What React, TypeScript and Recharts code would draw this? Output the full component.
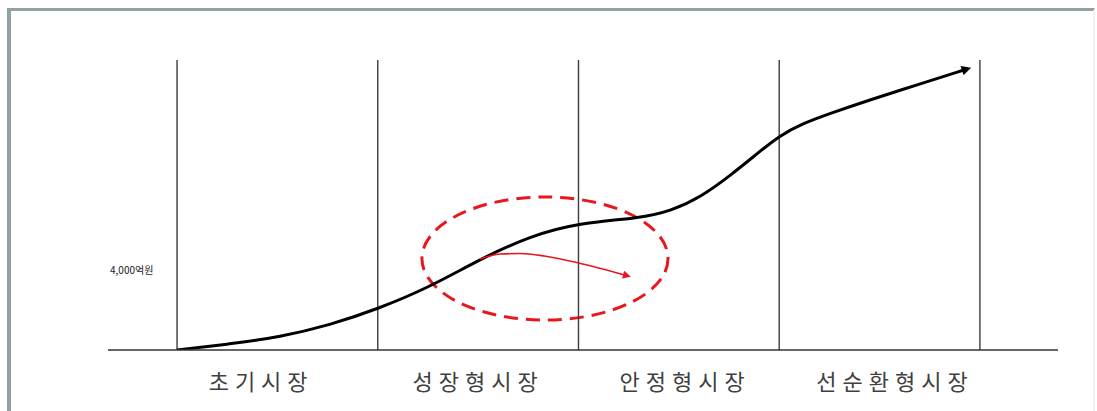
import React from "react";
import {
  ComposedChart,
  Line,
  XAxis,
  YAxis,
  ReferenceLine,
  ReferenceArea,
} from "recharts";

// stage boundaries (x in stage units) and stage labels
const stageBounds = [0, 1, 2, 3, 4];
const stageLabels = ["초기시장", "성장형시장", "안정형시장", "선순환형시장"];
const stageLabelPos = [0.404, 1.485, 2.516, 3.562];

// main market-size curve (억원)
const curveX = [0, 0.264, 0.513, 0.762, 1.0, 1.26, 1.51, 1.76, 2.0, 2.31, 2.46, 2.61, 2.76, 2.9, 3.0, 3.11, 3.26, 3.45, 3.7, 3.92];
const curveY = [0, 300, 650, 1250, 2050, 3150, 4550, 5700, 6350, 6600, 6950, 7650, 8750, 9900, 10700, 11300, 11850, 12500, 13300, 14000];

// red arrow inside the highlighted zone
const stallX = [1.51, 1.61, 1.71, 1.83, 2.0, 2.23];
const stallY = [4550, 4800, 4825, 4700, 4350, 3750];

// highlighted zone (dashed ellipse bounds)
const zoneX = [1.22, 2.446];
const zoneY = [1500, 7650];

const markLevel = 4000;
const markLabel = "4,000억원";

const curveData = curveX.map((x, i) => ({ x, v: curveY[i] }));
const stallData = stallX.map((x, i) => ({ x, v: stallY[i] }));

const KR = '"Noto Sans CJK KR", "Noto Sans", sans-serif';

function StageTick(props: any) {
  const { x, y, payload } = props;
  const idx = stageLabelPos.indexOf(payload.value);
  const label = idx >= 0 ? stageLabels[idx] : "";
  return (
    <text
      x={x}
      y={y + 30}
      dx={3}
      textAnchor="middle"
      dominantBaseline="central"
      fontFamily={KR}
      fontSize={22}
      letterSpacing={6}
      fill="#404040"
    >
      {label}
    </text>
  );
}

function DashedEllipse(props: any) {
  const { x, y, width, height } = props;
  return (
    <ellipse
      cx={x + width / 2}
      cy={y + height / 2}
      rx={width / 2}
      ry={height / 2}
      fill="none"
      stroke="#e8161d"
      strokeWidth={3}
      strokeDasharray="14 8"
    />
  );
}

export default function App() {
  return (
    <div
      style={{
        position: "fixed",
        left: 0,
        top: 0,
        width: 1097,
        height: 411,
        background: "#fff",
        overflow: "hidden",
      }}
    >
      <div
        style={{
          position: "absolute",
          left: 7,
          top: 8,
          width: 1082,
          height: 430,
          borderTop: "3px solid #8fa2a4",
          borderLeft: "4px solid #8fa2a4",
          borderRight: "2px solid #f4f1ee",
        }}
      />
      <div style={{ position: "absolute", left: 0, top: 0 }}>
        <ComposedChart
          width={1097}
          height={411}
          margin={{ top: 60, left: 108, right: 39, bottom: 31 }}
        >
          <defs>
            <marker id="arrowBlack" viewBox="0 0 10 10" refX="2" refY="5" markerWidth="4.5" markerHeight="3.2" orient="auto" markerUnits="strokeWidth">
              <path d="M0,0 L10,5 L0,10 z" fill="#000" />
            </marker>
            <marker id="arrowRed" viewBox="0 0 10 10" refX="2" refY="5" markerWidth="7" markerHeight="5" orient="auto" markerUnits="strokeWidth">
              <path d="M0,0 L10,5 L0,10 z" fill="#e8161d" />
            </marker>
          </defs>
          <XAxis
            dataKey="x"
            type="number"
            domain={[-0.344, 4.389]}
            allowDataOverflow
            ticks={stageLabelPos}
            interval={0}
            tick={<StageTick />}
            tickLine={false}
            tickSize={0}
            tickMargin={0}
            axisLine={{ stroke: "#333", strokeWidth: 1.5 }}
            height={30}
          />
          <YAxis type="number" domain={[0, 14500]} allowDataOverflow hide />
          {stageBounds.map((b) => (
            <ReferenceLine key={b} x={b} stroke="#3c3c3c" strokeWidth={1.4} />
          ))}
          <ReferenceLine
            y={markLevel}
            stroke="none"
            label={{
              value: markLabel,
              position: "insideLeft",
              offset: 2,
              fontSize: 10,
              fontFamily: KR,
              fill: "#222",
            }}
          />
          <ReferenceArea
            x1={zoneX[0]}
            x2={zoneX[1]}
            y1={zoneY[0]}
            y2={zoneY[1]}
            shape={<DashedEllipse />}
          />
          <Line
            data={curveData}
            dataKey="v"
            type="basis"
            stroke="#000"
            strokeWidth={3}
            dot={false}
            activeDot={false}
            markerEnd="url(#arrowBlack)"
            isAnimationActive={false}
          />
          <Line
            data={stallData}
            dataKey="v"
            type="monotone"
            stroke="#e8161d"
            strokeWidth={1.6}
            dot={false}
            activeDot={false}
            markerEnd="url(#arrowRed)"
            isAnimationActive={false}
          />
        </ComposedChart>
      </div>
    </div>
  );
}
